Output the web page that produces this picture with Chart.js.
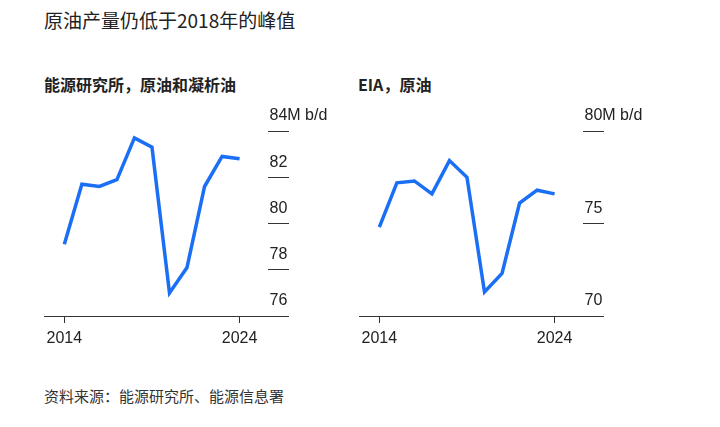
<!DOCTYPE html>
<html>
<head>
<meta charset="utf-8">
<script src="https://cdn.jsdelivr.net/npm/chart.js@4"></script>
<style>
  body { margin: 0; background: #fff; width: 720px; height: 427px; position: relative; overflow: hidden; font-family: "Noto Sans CJK SC", sans-serif; color: #222; }
  .title { position: absolute; left: 44px; top: 7px; font-size: 19px; line-height: 26px; }
  .sub { position: absolute; top: 73px; font-size: 16px; font-weight: bold; line-height: 22px; }
  .source { position: absolute; left: 44px; top: 385px; font-size: 15px; line-height: 22px; color: #333; }
  .panel { position: absolute; top: 100px; width: 360px; height: 260px; }
</style>
</head>
<body>
<div class="title">原油产量仍低于2018年的峰值</div>
<div class="sub" style="left:44px">能源研究所，原油和凝析油</div>
<div class="sub" style="left:358px">EIA，原油</div>
<div class="panel" style="left:0px"><canvas id="chartEI"></canvas></div>
<div class="panel" style="left:315px"><canvas id="chartEIA"></canvas></div>
<div class="source">资料来源：能源研究所、能源信息署</div>

<script>
const years = [2014, 2015, 2016, 2017, 2018, 2019, 2020, 2021, 2022, 2023, 2024]
const eiValues = [79.1, 81.7, 81.6, 81.9, 83.7, 83.3, 77.0, 78.1, 81.6, 82.9, 82.8]
const eiaValues = [74.8, 77.2, 77.3, 76.6, 78.4, 77.5, 71.3, 72.3, 76.1, 76.8, 76.6]
const xTicks = [2014, 2024]
const eiTicks = [76, 78, 80, 82, 84]
const eiaTicks = [70, 75, 80]
const unit = "M b/d"

const blue = "#1a6ff5"
const axisColor = "#333"
const tickFont = { family: "'Liberation Sans', Arial, sans-serif", size: 16 }

function makeChart(id, values, yTicks) {
    const top = yTicks[yTicks.length - 1]
    return new Chart(document.getElementById(id), {
        type: "line",
        data: {
            datasets: [{
                data: years.map((y, i) => ({ x: y, y: values[i] })),
                borderColor: blue,
                borderWidth: 3.5,
                pointRadius: 0,
                tension: 0,
                fill: false
            }]
        },
        options: {
            responsive: true,
            maintainAspectRatio: false,
            animation: false,
            layout: { padding: { left: 44, top: 31, right: 0, bottom: 0 } },
            plugins: { legend: { display: false }, tooltip: { enabled: false } },
            scales: {
                x: {
                    type: "linear",
                    min: 2012.84,
                    max: 2025.62,
                    afterBuildTicks: s => { s.ticks = xTicks.map(v => ({ value: v })) },
                    afterFit: s => { s.height = 44 },
                    border: { display: true, color: axisColor, width: 1 },
                    grid: { drawOnChartArea: false, drawTicks: true, tickLength: 7, color: axisColor },
                    ticks: { padding: 6, color: "#222", font: tickFont, callback: v => String(v), maxRotation: 0 }
                },
                y: {
                    position: "right",
                    min: yTicks[0],
                    max: top,
                    afterBuildTicks: s => { s.ticks = yTicks.map(v => ({ value: v })) },
                    afterFit: s => { s.width = 92 },
                    border: { display: false },
                    grid: { drawOnChartArea: false, drawTicks: true, tickLength: 21, color: axisColor },
                    ticks: {
                        padding: -19.5,
                        labelOffset: -15,
                        color: "#222",
                        font: tickFont,
                        autoSkip: false,
                        callback: v => v === top ? v + unit : String(v)
                    }
                }
            }
        }
    })
}

makeChart("chartEI", eiValues, eiTicks)
makeChart("chartEIA", eiaValues, eiaTicks)
</script>
</body>
</html>
